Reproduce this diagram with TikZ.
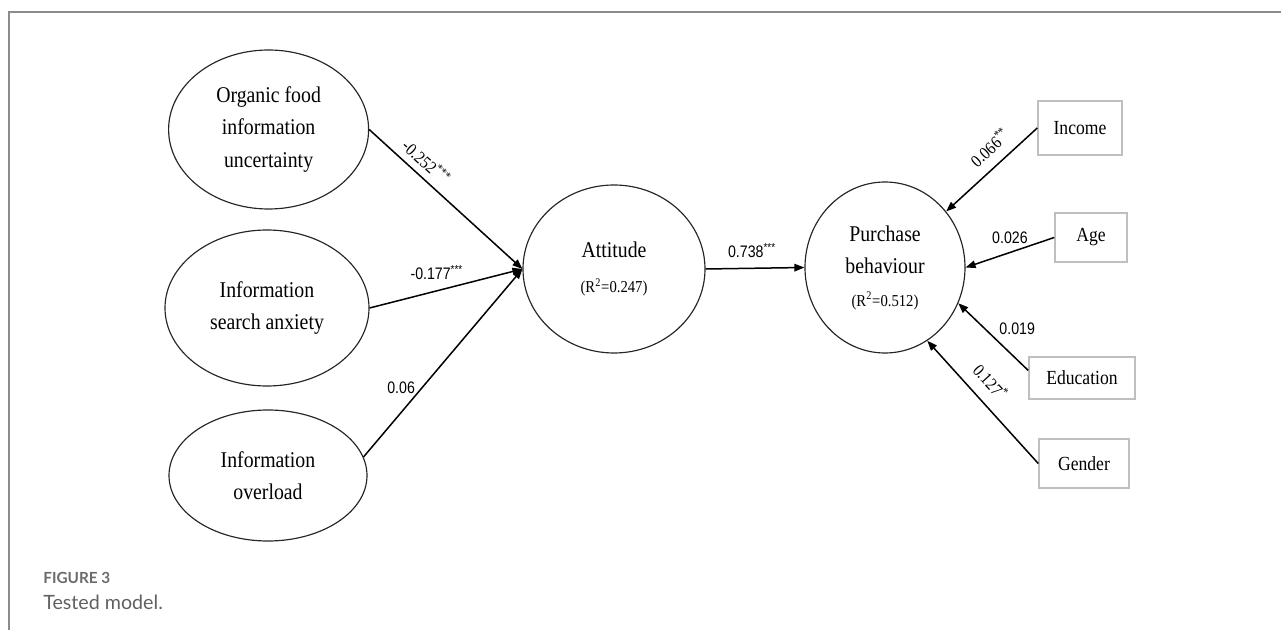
\documentclass[tikz,border=0pt]{standalone}
\usepackage{fontspec}
\usetikzlibrary{arrows.meta,shapes.geometric}
\setmainfont{Liberation Serif}
\newfontfamily\condserif[FakeStretch=0.88]{Liberation Serif}
\newfontfamily\condsans[FakeStretch=0.85]{Liberation Sans}
\newfontfamily\capfont{Lato}
\newcommand\pxu{0.6pt}
\newcommand\rsqfont{\condserif\fontsize{10}{12}\selectfont}

\begin{document}
\begin{tikzpicture}[x=0.6pt,y=-0.6pt,
  latent/.style={ellipse, draw=black!85, line width=0.7pt, inner sep=0pt, align=center,
    font=\condserif\fontsize{13.5}{19.5}\selectfont},
  observed/.style={rectangle, draw=black!25, line width=0.9pt, inner sep=0pt,
    font=\condserif\fontsize{12}{14}\selectfont},
  effect/.style={line width=0.9pt, -{Triangle[length=6pt,width=4.5pt]}},
  coef/.style={font=\condsans\fontsize{10}{12}\selectfont, inner sep=1pt},
  coefs/.style={font=\condserif\fontsize{10.5}{12}\selectfont, inner sep=1pt, sloped},
  frame/.style={draw=black!45, line width=0.9pt}
]
\useasboundingbox (0,0) rectangle (1281,630);

% panel border (top and left)
\draw[frame] (9,630) -- (9,12) -- (1281,12);

% latent constructs
\node[latent, minimum width=200*\pxu, minimum height=159*\pxu] (org) at (268.6,129.5)
  {Organic food\\information\\uncertainty};
\node[latent, minimum width=204*\pxu, minimum height=156*\pxu] (anx) at (267,308)
  {Information\\search anxiety};
\node[latent, minimum width=198*\pxu, minimum height=131*\pxu] (ovl) at (268,475.5)
  {Information\\overload};
\node[latent, minimum width=182*\pxu, minimum height=168*\pxu] (att) at (614,269)
  {Attitude\\[1pt]{\rsqfont(R\textsuperscript{2}=0.247)}};
\node[latent, minimum width=160*\pxu, minimum height=171*\pxu] (pur) at (885,267.5)
  {Purchase\\behaviour\\{\rsqfont(R\textsuperscript{2}=0.512)}};

% control variables
\node[observed, minimum width=84*\pxu, minimum height=54*\pxu] (inc) at (1080,128) {Income};
\node[observed, minimum width=72*\pxu, minimum height=49*\pxu] (age) at (1091,237.5) {Age};
\node[observed, minimum width=106*\pxu, minimum height=42*\pxu] (edu) at (1082,378) {Education};
\node[observed, minimum width=90*\pxu, minimum height=49*\pxu] (gen) at (1084,463.5) {Gender};

% structural paths
\draw[effect] (org.east) -- (att.west)
  node[coefs, pos=0.31, above=3pt] {-0.252\textsuperscript{***}};
\draw[effect] (anx.east) -- (att.west)
  node[coef, pos=0.44, above=5pt] {-0.177\textsuperscript{***}};
\draw[effect] (ovl.11) -- (att.west)
  node[coef, pos=0.37, left=3pt] {0.06};
\draw[effect] (att.east) -- (pur.west)
  node[coef, pos=0.47, above=5pt] {0.738\textsuperscript{***}};

% control paths
\draw[effect] (inc.west) -- (pur)
  node[coefs, pos=0.39, above=5pt] {0.066\textsuperscript{**}};
\draw[effect] (age.west) -- (pur.east)
  node[coef, pos=0.5, above=4pt] {0.026};
\draw[effect] (edu.172) -- (pur.-26)
  node[coef, pos=0.47, anchor=south west, xshift=1pt, yshift=1pt] {0.019};
\draw[effect] (gen.west) -- (pur.-60)
  node[coefs, pos=0.56, above=6pt] {0.127\textsuperscript{*}};

% caption
\node[anchor=west, inner sep=0pt, text=black!58, font=\capfont\bfseries\fontsize{9.2}{11}\selectfont]
  (figlabel) at (43,578) {FIGURE 3};
\node[anchor=west, inner sep=0pt, text=black!62, font=\capfont\fontsize{11.8}{14}\selectfont]
  (figcaption) at (43,602) {Tested model.};
\end{tikzpicture}
\end{document}
